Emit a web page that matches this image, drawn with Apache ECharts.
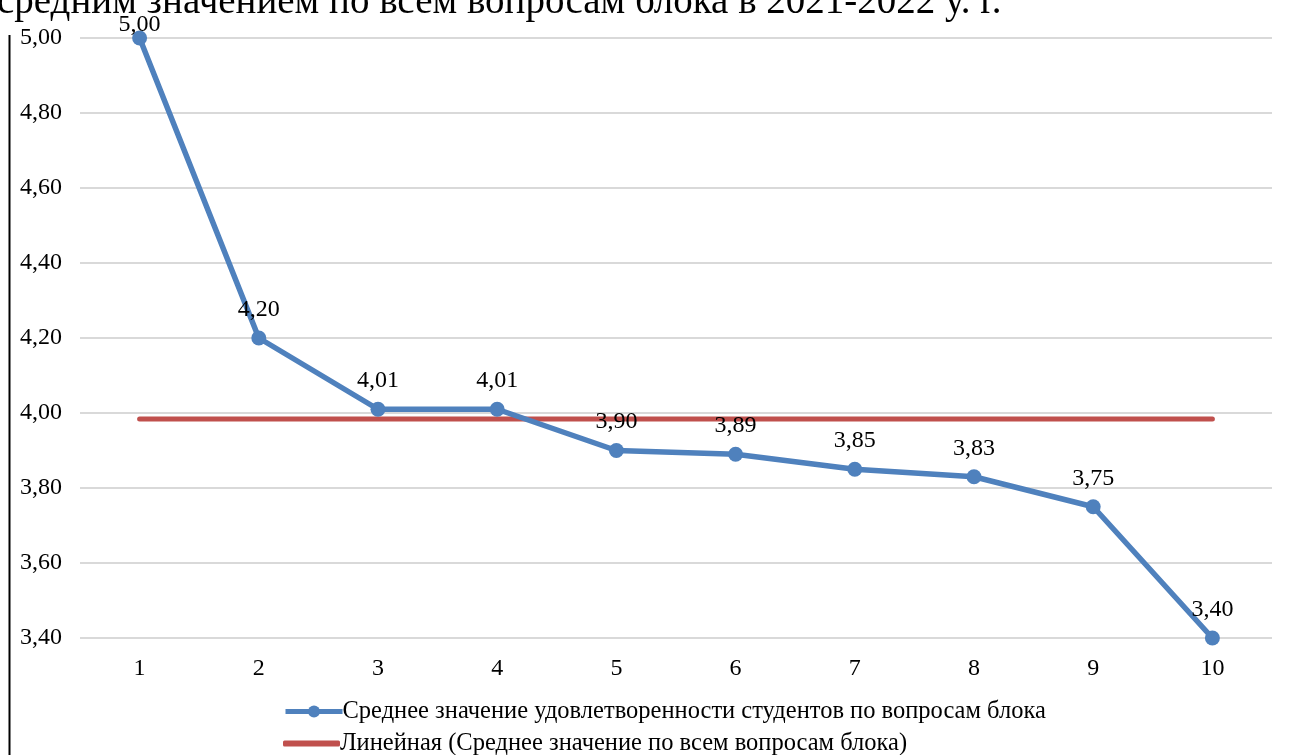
<!DOCTYPE html>
<html>
<head>
<meta charset="utf-8">
<script src="https://cdn.jsdelivr.net/npm/echarts@6/dist/echarts.min.js"></script>
<style>
  html, body { margin: 0; padding: 0; background: #fff; }
  #chart { width: 1289px; height: 755px; }
</style>
</head>
<body>
<div id="chart"></div>
<script>
const categories = ['1', '2', '3', '4', '5', '6', '7', '8', '9', '10'];
const satisfaction = [5.00, 4.20, 4.01, 4.01, 3.90, 3.89, 3.85, 3.83, 3.75, 3.40];
const trendValues = [3.984, 3.984, 3.984, 3.984, 3.984, 3.984, 3.984, 3.984, 3.984, 3.984];
const seriesNames = [
    'Среднее значение удовлетворенности студентов по вопросам блока',
    'Линейная (Среднее значение по всем вопросам блока)'
];
const titleText = 'средним значением по всем вопросам блока в 2021-2022 у. г.';

const FONT = '"Liberation Serif", "Times New Roman", serif';
const fmt = v => v.toFixed(2).replace('.', ',');

const chart = echarts.init(document.getElementById('chart'));

// first point label sits lower (pushed down against the top edge)
const satData = satisfaction.map((v, i) => i === 0
    ? { value: v, label: { distance: -6 } }
    : v);

const legendText = { fontFamily: FONT, fontSize: 24.5, color: '#000', padding: [0, 0, 0, -5] };

chart.setOption({
    animation: false,
    textStyle: { fontFamily: FONT },
    graphic: [
        {
            type: 'text',
            left: -3,
            top: -17,
            style: { text: titleText, font: '39px ' + FONT, fill: '#000' }
        },
        {
            type: 'line',
            shape: { x1: 9.5, y1: 35, x2: 9.5, y2: 755 },
            style: { stroke: '#000', lineWidth: 2 }
        }
    ],
    grid: { left: 80, right: 17, top: 38, bottom: 117 },
    legend: [
        {
            left: 283,
            top: 699,
            padding: 0,
            itemWidth: 57,
            itemHeight: 15,
            textStyle: legendText,
            data: [{ name: seriesNames[0], lineStyle: { width: 5 } }]
        },
        {
            left: 283,
            top: 731,
            padding: 0,
            itemWidth: 57,
            itemHeight: 6,
            textStyle: legendText,
            data: [{ name: seriesNames[1], icon: 'roundRect' }]
        }
    ],
    xAxis: {
        type: 'category',
        data: categories,
        boundaryGap: true,
        axisLine: { show: false },
        axisTick: { show: false },
        axisLabel: { fontSize: 24, color: '#000', margin: 19, fontFamily: FONT }
    },
    yAxis: {
        type: 'value',
        min: 3.4,
        max: 5.0,
        interval: 0.2,
        axisLine: { show: false },
        axisTick: { show: false },
        splitLine: { lineStyle: { color: '#d9d9d9', width: 2 } },
        axisLabel: {
            fontSize: 24, color: '#000', margin: 18, fontFamily: FONT,
            formatter: v => fmt(v)
        }
    },
    series: [
        {
            name: seriesNames[1],
            type: 'line',
            data: trendValues,
            symbol: 'none',
            lineStyle: { color: '#C0504D', width: 5, cap: 'round' },
            itemStyle: { color: '#C0504D' },
            z: 2
        },
        {
            name: seriesNames[0],
            type: 'line',
            data: satData,
            symbol: 'circle',
            symbolSize: 15,
            lineStyle: { color: '#4F81BD', width: 5.5 },
            itemStyle: { color: '#4F81BD' },
            label: {
                show: true,
                position: 'top',
                distance: 9,
                fontSize: 24,
                color: '#000',
                fontFamily: FONT,
                formatter: p => fmt(p.value)
            },
            z: 3
        }
    ]
});

window.addEventListener('resize', () => chart.resize());
</script>
</body>
</html>
